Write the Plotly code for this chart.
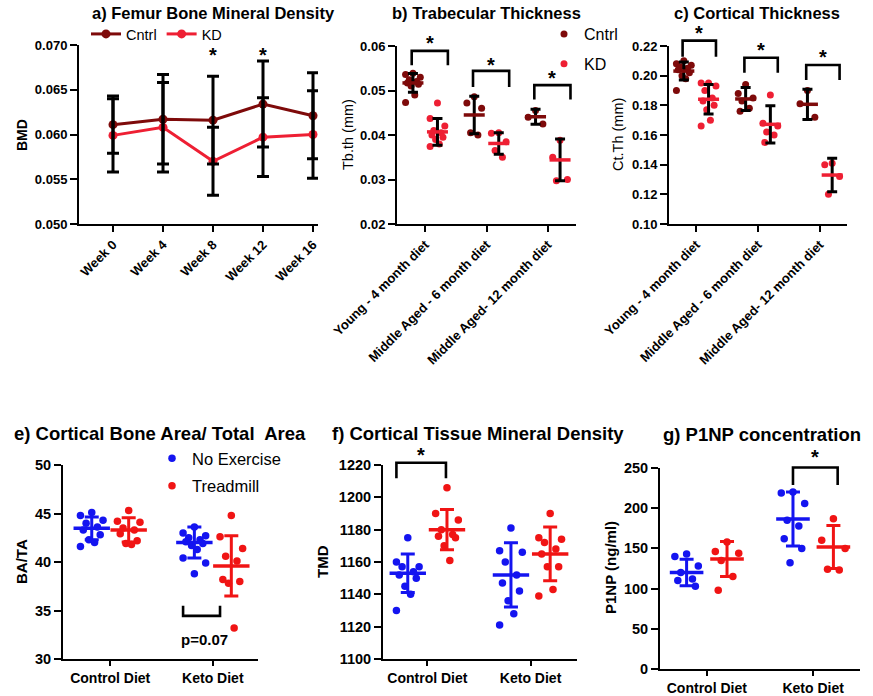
import plotly.graph_objects as go

W, H = 873, 696

# ---------------- data ----------------
weeks = ["Week 0", "Week 4", "Week 8", "Week 12", "Week 16"]
bmd_cntrl = [0.0611, 0.0617, 0.0616, 0.0634, 0.0621]
bmd_cntrl_sd = [0.0032, 0.0050, 0.0049, 0.0048, 0.0048]
bmd_kd = [0.0599, 0.0608, 0.0570, 0.0597, 0.0600]
bmd_kd_sd = [0.0041, 0.0050, 0.0038, 0.0044, 0.0049]
bmd_sig_idx = [2, 3]
bmd_sig_y = 0.0694

age_groups = ["Young - 4 month diet", "Middle Aged - 6 month diet", "Middle Aged- 12 month diet"]

tbth_cntrl_pts = [
    [0.0539, 0.0536, 0.0530, 0.0524, 0.0520, 0.0517, 0.0514, 0.0510, 0.0490, 0.0473],
    [0.0486, 0.0472, 0.0460, 0.0405, 0.0400],
    [0.0455, 0.0440, 0.0425],
]
tbth_cntrl_mean = [0.0517, 0.0445, 0.0441]
tbth_cntrl_sd = [0.0021, 0.0042, 0.0017]
tbth_kd_pts = [
    [0.0472, 0.0437, 0.0420, 0.0410, 0.0405, 0.0400, 0.0395, 0.0390, 0.0380, 0.0374],
    [0.0405, 0.0404, 0.0385, 0.0365, 0.0350],
    [0.0388, 0.0350, 0.0300, 0.0297],
]
tbth_kd_mean = [0.0407, 0.0381, 0.0344]
tbth_kd_sd = [0.0030, 0.0024, 0.0047]
tbth_bracket_top = [0.0589, 0.0544, 0.0512]
tbth_bracket_leg = [0.0557, 0.0508, 0.0480]
tbth_star_y = [0.0616, 0.0566, 0.0537]

ctth_cntrl_pts = [
    [0.210, 0.208, 0.207, 0.206, 0.205, 0.204, 0.202, 0.200, 0.198, 0.190],
    [0.194, 0.188, 0.185, 0.183, 0.178, 0.176],
    [0.190, 0.181, 0.172],
]
ctth_cntrl_mean = [0.2031, 0.1843, 0.1807]
ctth_cntrl_sd = [0.0061, 0.0077, 0.0102]
ctth_kd_pts = [
    [0.195, 0.195, 0.193, 0.190, 0.185, 0.183, 0.180, 0.177, 0.170, 0.166],
    [0.187, 0.168, 0.166, 0.162, 0.160, 0.155],
    [0.141, 0.140, 0.132, 0.120],
]
ctth_kd_mean = [0.1841, 0.1672, 0.1330]
ctth_kd_sd = [0.0099, 0.0126, 0.0113]
ctth_bracket_top = [0.2236, 0.2121, 0.2072]
ctth_bracket_leg = [0.2128, 0.2020, 0.1970]
ctth_star_y = [0.2315, 0.2200, 0.2153]

diets = ["Control Diet", "Keto Diet"]

bata_noex_pts = [
    [45.1, 44.8, 44.3, 44.0, 43.6, 43.3, 42.8, 42.3, 42.0, 41.6],
    [43.6, 43.0, 42.7, 42.5, 42.3, 42.1, 41.9, 41.7, 41.3, 40.4, 39.9, 38.8],
]
bata_noex_mean = [43.47, 42.0]
bata_noex_sd = [1.17, 1.6]
bata_tread_pts = [
    [45.3, 44.2, 44.1, 43.5, 43.3, 42.9, 42.2, 41.9, 41.8],
    [44.8, 42.6, 41.4, 40.6, 40.1, 38.2, 38.0, 37.8, 33.2],
]
bata_tread_mean = [43.3, 39.6]
bata_tread_sd = [1.25, 3.1]
bata_bracket_leg = 35.5
bata_bracket_base = 34.45
bata_p_text = "p=0.07"
bata_p_y = 31.96

tmd_noex_pts = [
    [1175, 1160, 1157, 1157, 1154, 1152, 1150, 1145, 1140, 1130],
    [1181, 1167, 1166, 1160, 1152, 1147, 1142, 1136, 1128, 1121],
]
tmd_noex_mean = [1153, 1152]
tmd_noex_sd = [11.9, 19.9]
tmd_tread_pts = [
    [1206, 1190, 1186, 1180, 1177, 1176, 1175, 1170, 1161],
    [1190, 1175, 1174, 1172, 1168, 1165, 1157, 1157, 1143, 1139],
]
tmd_tread_mean = [1180, 1165]
tmd_tread_sd = [12.4, 16.6]
tmd_bracket_leg = 1211.8
tmd_bracket_top = 1221.4
tmd_star_y = 1228.8

p1np_noex_pts = [
    [143, 140, 128, 120, 112, 110, 103],
    [220, 219, 206, 185, 178, 162, 150, 132],
]
p1np_noex_mean = [120, 186.6]
p1np_noex_sd = [16.4, 33.6]
p1np_tread_pts = [
    [158, 146, 144, 135, 115, 98],
    [187, 160, 150, 124, 123],
]
p1np_tread_mean = [136.8, 151.7]
p1np_tread_sd = [21.8, 26.8]
p1np_bracket_leg = 229
p1np_bracket_top = 250.7
p1np_star_y = 268.7

# ---------------- style ----------------
DARK = "#7E0A0A"
RED = "#EE1F33"
BLUE = "#1414F0"
RED2 = "#F01414"
FONT = "Arial, Liberation Sans, sans-serif"
STAR_FONT = dict(size=20, family=FONT, color="black", weight="bold")
STAR_SHIFT = -4

def xd(a, b):
    return [a / W, b / W]

def yd(top, bottom):
    return [1 - bottom / H, 1 - top / H]

panels = {
    "a": dict(x=xd(79, 318), y=yd(45, 224), xr=[-0.68, 4.1], yr=[0.05, 0.07]),
    "b": dict(x=xd(397, 576), y=yd(46, 224), xr=[-0.46, 2.46], yr=[0.02, 0.06]),
    "c": dict(x=xd(669, 847), y=yd(46, 224), xr=[-0.44, 2.44], yr=[0.10, 0.22]),
    "e": dict(x=xd(63, 258), y=yd(465, 659), xr=[-0.46, 1.44], yr=[30, 50]),
    "f": dict(x=xd(383, 577), y=yd(465, 659), xr=[-0.43, 1.45], yr=[1100, 1220]),
    "g": dict(x=xd(660, 860), y=yd(468, 669), xr=[-0.44, 1.44], yr=[0, 250]),
}
axid = {"a": "", "b": "2", "c": "3", "e": "4", "f": "5", "g": "6"}

def ypaper(p, v):
    d = panels[p]["y"]; r = panels[p]["yr"]
    return d[0] + (v - r[0]) / (r[1] - r[0]) * (d[1] - d[0])

def spread(vals, center, half):
    pattern = [0, -1, 1, -0.5, 0.5, -0.75, 0.75, -0.25, 0.25, -1, 1, 0]
    order = sorted(range(len(vals)), key=lambda i: -vals[i])
    xs = [0] * len(vals)
    for k, i in enumerate(order):
        xs[i] = center + pattern[k % len(pattern)] * half
    return xs

fig = go.Figure()

def ax(p):
    s = axid[p]
    return "x" + s, "y" + s

# ---------- panel a ----------
xa, ya = ax("a")
idx = list(range(len(weeks)))
fig.add_trace(go.Scatter(x=idx, y=bmd_cntrl, mode="lines+markers", name="Cntrl",
                         line=dict(color=DARK, width=3), marker=dict(color=DARK, size=9),
                         xaxis=xa, yaxis=ya, legend="legend"))
fig.add_trace(go.Scatter(x=idx, y=bmd_kd, mode="lines+markers", name="KD",
                         line=dict(color=RED, width=3), marker=dict(color=RED, size=9),
                         xaxis=xa, yaxis=ya, legend="legend"))
for m, sd in [(bmd_cntrl, bmd_cntrl_sd), (bmd_kd, bmd_kd_sd)]:
    fig.add_trace(go.Scatter(x=idx, y=m, mode="markers", showlegend=False,
                             marker=dict(size=1, opacity=0),
                             error_y=dict(type="data", array=sd, color="black", thickness=3, width=6),
                             xaxis=xa, yaxis=ya, hoverinfo="skip"))

annotations = []
shapes = []
for i in bmd_sig_idx:
    annotations.append(dict(x=i, y=bmd_sig_y, xref=xa, yref=ya, text="*",
                            showarrow=False, font=STAR_FONT, xanchor="center",
                            yanchor="middle", yshift=STAR_SHIFT - 1))

# ---------- helpers for dot plots ----------
def dotplot(p, ptsA, meanA, sdA, colA, nameA, ptsB, meanB, sdB, colB, nameB,
            offs, half, psize, barsize, errcolA, errcolB, capw, legend, show):
    xa_, ya_ = ax(p)
    for pts, mean, sd, col, name, off, ec in [
        (ptsA, meanA, sdA, colA, nameA, -offs, errcolA),
        (ptsB, meanB, sdB, colB, nameB, offs, errcolB)]:
        xs, ys = [], []
        for g, vals in enumerate(pts):
            xs += spread(vals, g + off, half)
            ys += vals
        fig.add_trace(go.Scatter(x=xs, y=ys, mode="markers", name=name,
                                 marker=dict(color=col, size=psize),
                                 showlegend=show, legend=legend, legendgroup=p + name,
                                 xaxis=xa_, yaxis=ya_))
        gx = [g + off for g in range(len(mean))]
        fig.add_trace(go.Scatter(x=gx, y=mean, mode="markers", showlegend=False,
                                 marker=dict(symbol="line-ew", size=barsize,
                                             line=dict(color=col, width=3.5)),
                                 error_y=dict(type="data", array=sd, color=ec,
                                              thickness=3, width=capw),
                                 xaxis=xa_, yaxis=ya_, hoverinfo="skip"))

dotplot("b", tbth_cntrl_pts, tbth_cntrl_mean, tbth_cntrl_sd, DARK, "Cntrl",
        tbth_kd_pts, tbth_kd_mean, tbth_kd_sd, RED, "KD",
        0.2, 0.12, 7, 15, "black", "black", 5, "legend2", True)
dotplot("c", ctth_cntrl_pts, ctth_cntrl_mean, ctth_cntrl_sd, DARK, "Cntrl",
        ctth_kd_pts, ctth_kd_mean, ctth_kd_sd, RED, "KD",
        0.2, 0.12, 7, 15, "black", "black", 5, "legend2", False)
dotplot("e", bata_noex_pts, bata_noex_mean, bata_noex_sd, BLUE, "No Exercise",
        bata_tread_pts, bata_tread_mean, bata_tread_sd, RED2, "Treadmill",
        0.18, 0.11, 7.5, 26, BLUE, RED2, 7, "legend3", True)
dotplot("f", tmd_noex_pts, tmd_noex_mean, tmd_noex_sd, BLUE, "No Exercise",
        tmd_tread_pts, tmd_tread_mean, tmd_tread_sd, RED2, "Treadmill",
        0.19, 0.11, 7.5, 26, BLUE, RED2, 7, "legend3", False)
dotplot("g", p1np_noex_pts, p1np_noex_mean, p1np_noex_sd, BLUE, "No Exercise",
        p1np_tread_pts, p1np_tread_mean, p1np_tread_sd, RED2, "Treadmill",
        0.19, 0.11, 7.5, 24, BLUE, RED2, 7, "legend3", False)

# ---------- brackets ----------
def bracket(p, x0, x1, ytop, yleg, star=None):
    xa_, _ = ax(p)
    yt = ypaper(p, ytop); yl = ypaper(p, yleg)
    shapes.append(dict(type="path", xref=xa_, yref="paper",
                       path=f"M {x0},{yl} L {x0},{yt} L {x1},{yt} L {x1},{yl}",
                       line=dict(color="black", width=2.6)))
    if star is not None:
        annotations.append(dict(x=(x0 + x1) / 2, y=ypaper(p, star), xref=xa_, yref="paper",
                                text="*", showarrow=False, font=STAR_FONT,
                                xanchor="center", yanchor="middle", yshift=STAR_SHIFT))

for g in range(3):
    bracket("b", g - 0.22, g + 0.37, tbth_bracket_top[g], tbth_bracket_leg[g], tbth_star_y[g])
    bracket("c", g - 0.22, g + 0.32, ctth_bracket_top[g], ctth_bracket_leg[g], ctth_star_y[g])
bracket("e", 1 - 0.29, 1 + 0.07, bata_bracket_base, bata_bracket_leg)
annotations.append(dict(x=1 - 0.08, y=bata_p_y, xref="x4", yref="y4", text=bata_p_text,
                        showarrow=False, xanchor="center", yanchor="middle",
                        font=dict(size=15, family=FONT, color="black", weight="bold")))
bracket("f", -0.30, 0.18, tmd_bracket_top, tmd_bracket_leg, tmd_star_y)
bracket("g", 1 - 0.19, 1 + 0.23, p1np_bracket_top, p1np_bracket_leg, p1np_star_y)

# ---------- axes ----------
common = dict(showline=True, linecolor="black", linewidth=2, ticks="outside", ticklen=6,
              tickwidth=2, tickcolor="black", showgrid=False, zeroline=False,
              fixedrange=True, automargin=False)
layout = {}
xt = {"a": (idx, weeks), "b": ([0, 1, 2], age_groups), "c": ([0, 1, 2], age_groups),
      "e": ([0, 1], diets), "f": ([0, 1], diets), "g": ([0, 1], diets)}
ytk = {"a": ([0.05, 0.055, 0.06, 0.065, 0.07], ".3f"),
       "b": ([0.02, 0.03, 0.04, 0.05, 0.06], ".2f"),
       "c": ([0.10, 0.12, 0.14, 0.16, 0.18, 0.20, 0.22], ".2f"),
       "e": ([30, 35, 40, 45, 50], "d"),
       "f": ([1100, 1120, 1140, 1160, 1180, 1200, 1220], "d"),
       "g": ([0, 50, 100, 150, 200, 250], "d")}
for p, d in panels.items():
    s = axid[p]
    top = p in "abc"
    xfont = dict(size=13 if top else 14, family=FONT, color="black", weight="bold")
    yfont = dict(size=13 if top else 14.5, family=FONT, color="black", weight="bold")
    layout["xaxis" + s] = dict(common, domain=d["x"], range=d["xr"], anchor="y" + s,
                               tickvals=xt[p][0], ticktext=xt[p][1],
                               tickangle=-45 if top else 0, tickfont=xfont,
                               ticklen=6 if top else 5)
    layout["yaxis" + s] = dict(common, domain=d["y"], range=d["yr"], anchor="x" + s,
                               tickvals=ytk[p][0], tickformat=ytk[p][1], tickfont=yfont,
                               ticklen=7)

# ---------- titles and axis labels ----------
def txt(xpx, ypx, text, size, bold=True, angle=0, xanchor="center"):
    annotations.append(dict(x=xpx / W, y=1 - ypx / H, xref="paper", yref="paper", text=text,
                            showarrow=False, textangle=angle, xanchor=xanchor, yanchor="middle",
                            font=dict(size=size, family=FONT, color="black",
                                      weight="bold" if bold else "normal")))

txt(213, 13, "a) Femur Bone Mineral Density", 16.5)
txt(486, 13, "b) Trabecular Thickness", 16.5)
txt(757, 13, "c) Cortical Thickness", 16.5)
txt(160, 433, "e) Cortical Bone Area/ Total  Area", 18.5)
txt(478, 433, "f) Cortical Tissue Mineral Density", 18.5)
txt(762, 434, "g) P1NP concentration", 18.5)

txt(22, 135, "BMD", 14, angle=-90)
txt(348, 135, "Tb.th (mm)", 14.5, bold=False, angle=-90)
txt(618, 135, "Ct.Th (mm)", 14.5, bold=False, angle=-90)
txt(21, 562, "BA/TA", 15, angle=-90)
txt(322, 562, "TMD", 15, angle=-90)
txt(610, 568, "P1NP (ng/ml)", 15, angle=-90)

fig.update_layout(
    width=W, height=H, autosize=False,
    margin=dict(l=0, r=0, t=0, b=0, autoexpand=False),
    paper_bgcolor="white", plot_bgcolor="white",
    font=dict(family=FONT, color="black"),
    annotations=annotations, shapes=shapes,
    legend=dict(orientation="h", x=86 / W, y=1 - 18 / H, xanchor="left", yanchor="top",
                font=dict(size=14.5, family=FONT, color="black"), bgcolor="rgba(0,0,0,0)",
                itemwidth=30, tracegroupgap=0),
    legend2=dict(orientation="v", x=544 / W, y=1 - 17 / H, xanchor="left", yanchor="top",
                 font=dict(size=16, family=FONT, color="black"), bgcolor="rgba(0,0,0,0)",
                 traceorder="grouped", tracegroupgap=6, itemsizing="trace"),
    legend3=dict(orientation="v", x=152 / W, y=1 - 441 / H, xanchor="left", yanchor="top",
                 font=dict(size=16.5, family=FONT, color="black"), bgcolor="rgba(0,0,0,0)",
                 traceorder="grouped", tracegroupgap=3, itemsizing="trace"),
    **layout,
)

fig.write_html("out.html", config={"displayModeBar": False},
               post_script="document.body.style.margin='0px';document.body.style.padding='0px';")
